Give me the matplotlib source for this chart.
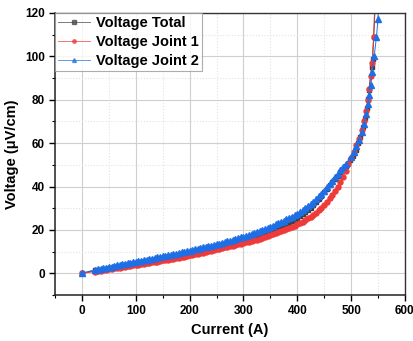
import matplotlib.pyplot as plt
from matplotlib.ticker import MultipleLocator

# %%
# Values (current in A, voltage in uV/cm)
# dense part of the sweep, sampled every 5 A from 25 A to 480 A
i_sweep = list(range(25, 485, 5))

v_total_sweep = [1.3, 1.5, 1.7, 1.9, 2.1, 2.3, 2.5, 2.8, 3.0, 3.2, 3.5, 3.7, 3.9, 4.1, 4.4, 4.6, 4.8, 5.0,
                 5.3, 5.5, 5.7, 5.9, 6.2, 6.4, 6.7, 6.9, 7.1, 7.4, 7.6, 7.8, 8.1, 8.3, 8.6, 8.8, 9.1, 9.3,
                 9.6, 9.9, 10.1, 10.4, 10.7, 11.0, 11.3, 11.6, 11.9, 12.2, 12.5, 12.8, 13.1, 13.4, 13.7,
                 14.0, 14.3, 14.6, 15.0, 15.3, 15.6, 16.0, 16.4, 16.8, 17.2, 17.6, 18.0, 18.5, 18.9, 19.4,
                 19.9, 20.4, 20.9, 21.5, 22.1, 22.7, 23.3, 24.0, 24.7, 25.5, 26.3, 27.2, 28.2, 29.2, 30.3,
                 31.5, 32.8, 34.2, 35.7, 37.3, 38.9, 40.5, 42.0, 43.5, 45.0, 46.5]
v_joint1_sweep = [0.8, 1.0, 1.2, 1.4, 1.6, 1.8, 2.0, 2.2, 2.4, 2.6, 2.8, 3.0, 3.2, 3.4, 3.6, 3.8, 4.0, 4.2,
                  4.4, 4.6, 4.8, 5.0, 5.2, 5.4, 5.7, 5.9, 6.1, 6.3, 6.6, 6.8, 7.0, 7.2, 7.5, 7.7, 8.0, 8.2,
                  8.5, 8.7, 9.0, 9.2, 9.5, 9.8, 10.1, 10.4, 10.7, 11.0, 11.3, 11.6, 11.9, 12.2, 12.5, 12.8,
                  13.0, 13.3, 13.6, 13.9, 14.2, 14.5, 14.9, 15.2, 15.5, 15.9, 16.3, 16.7, 17.1, 17.5, 17.9,
                  18.4, 18.9, 19.4, 19.9, 20.4, 20.9, 21.4, 21.9, 22.5, 23.1, 23.8, 24.5, 25.3, 26.1, 27.0,
                  28.0, 29.0, 30.2, 31.5, 33.0, 34.5, 36.2, 38.0, 40.0, 42.0]
v_joint2_sweep = [1.7, 1.9, 2.1, 2.3, 2.6, 2.8, 3.1, 3.3, 3.6, 3.8, 4.1, 4.3, 4.6, 4.8, 5.1, 5.3, 5.6, 5.8,
                  6.1, 6.3, 6.6, 6.8, 7.1, 7.3, 7.6, 7.9, 8.1, 8.4, 8.6, 8.9, 9.1, 9.4, 9.6, 9.9, 10.1, 10.4,
                  10.7, 11.0, 11.3, 11.6, 11.9, 12.2, 12.5, 12.8, 13.1, 13.4, 13.7, 14.0, 14.4, 14.7, 15.1,
                  15.4, 15.8, 16.1, 16.5, 16.8, 17.2, 17.6, 18.0, 18.5, 18.9, 19.4, 19.9, 20.4, 20.9, 21.4,
                  21.9, 22.5, 23.0, 23.6, 24.2, 24.8, 25.4, 26.1, 26.8, 27.5, 28.3, 29.1, 30.0, 30.9, 31.9,
                  33.0, 34.2, 35.4, 36.7, 38.1, 39.6, 41.1, 42.7, 44.3, 45.9, 47.5]

# steep tail near the critical current, read point by point
i_total_tail = [485, 490, 498, 504, 509, 513, 517, 522, 525, 529, 532, 533, 538, 540, 542, 545]
v_total_tail = [48.0, 49.5, 52.0, 54.0, 57.0, 60.0, 63.0, 67.5, 71.7, 76.0, 80.5, 84.3, 95.0, 98.7, 109.0, 124.0]
i_joint1_tail = [485, 490, 495, 500, 505, 510, 515, 520, 524, 528, 531, 534, 537, 539, 542, 544]
v_joint1_tail = [44.5, 47.0, 50.5, 53.0, 56.0, 59.0, 62.0, 66.0, 70.0, 75.0, 80.0, 85.0, 91.0, 97.0, 109.0, 125.0]
i_joint2_tail = [485, 490, 500, 505, 510, 515, 520, 524, 528, 531, 534, 537, 539, 543, 547, 550, 552]
v_joint2_tail = [49.0, 50.5, 53.5, 56.0, 58.5, 61.5, 65.0, 69.0, 73.5, 78.0, 82.0, 87.0, 92.8, 100.0, 108.7,
                 117.0, 135.0]

# every series starts at the origin
i_total = [0] + i_sweep + i_total_tail
v_total = [0] + v_total_sweep + v_total_tail
i_joint1 = [0] + i_sweep + i_joint1_tail
v_joint1 = [0] + v_joint1_sweep + v_joint1_tail
i_joint2 = [0] + i_sweep + i_joint2_tail
v_joint2 = [0] + v_joint2_sweep + v_joint2_tail

# %%
plt.rcParams["font.family"] = ["Liberation Sans", "DejaVu Sans"]
plt.rcParams["font.weight"] = "bold"

fig = plt.figure(figsize=(4.14, 3.41), dpi=100)
ax = fig.add_axes([0.133, 0.135, 0.845, 0.827])

ax.plot(i_total, v_total, "-s", color="#404040", markersize=3.4, linewidth=0.7, label="Voltage Total")
ax.plot(i_joint1, v_joint1, "-o", color="#f03a3a", markersize=3.6, linewidth=0.7, label="Voltage Joint 1")
ax.plot(i_joint2, v_joint2, "-^", color="#1e6fe6", markersize=4, linewidth=0.7, label="Voltage Joint 2")

ax.set_xlim(-50, 600)
ax.set_ylim(-10, 120)
ax.xaxis.set_major_locator(MultipleLocator(100))
ax.xaxis.set_minor_locator(MultipleLocator(50))
ax.yaxis.set_major_locator(MultipleLocator(20))
ax.yaxis.set_minor_locator(MultipleLocator(10))

ax.grid(which="major", color="#cfcfcf", linewidth=0.8)
ax.grid(which="minor", color="#e2e2e2", linestyle=":", linewidth=0.8)
ax.set_axisbelow(True)

ax.tick_params(which="major", length=4, width=1, labelsize=8.5, direction="out")
ax.tick_params(which="minor", length=2.5, width=0.8, direction="out")
for side in ["left", "bottom"]:
    ax.spines[side].set_color("#222222")
    ax.spines[side].set_linewidth(1.1)
for side in ["top", "right"]:
    ax.spines[side].set_color("#333333")
    ax.spines[side].set_linewidth(1.0)

ax.set_xlabel("Current (A)", fontsize=10.5, fontweight="bold")
ax.set_ylabel("Voltage (μV/cm)", fontsize=10.5, fontweight="bold")

leg = ax.legend(loc="upper left", fontsize=10.5, frameon=True, fancybox=False, borderaxespad=0,
                handlelength=2.2, handletextpad=0.4, borderpad=0.2, labelspacing=0.35, markerscale=0.7)
leg.get_frame().set_edgecolor("#999999")
leg.get_frame().set_linewidth(0.8)
for line in leg.get_lines():
    line.set_alpha(0.7)

fig.savefig("out.png", dpi=100)
